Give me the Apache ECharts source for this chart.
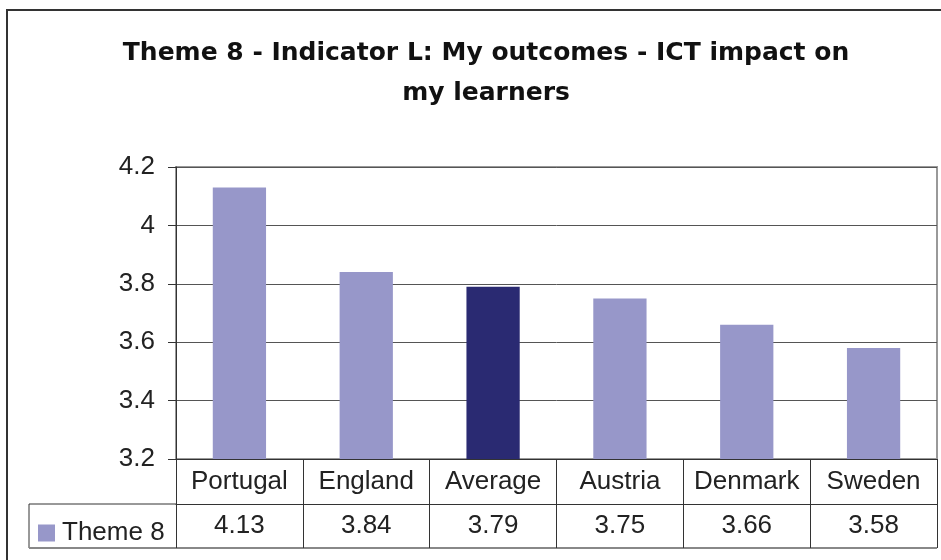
<!DOCTYPE html>
<html>
<head>
<meta charset="utf-8">
<script src="https://cdn.jsdelivr.net/npm/echarts@6/dist/echarts.min.js"></script>
<style>
  html, body { margin: 0; padding: 0; background: #fff; }
  #chart { width: 941px; height: 560px; }
</style>
</head>
<body>
<div id="chart"></div>
<script>
const categories = ['Portugal', 'England', 'Average', 'Austria', 'Denmark', 'Sweden'];
const theme8 = [4.13, 3.84, 3.79, 3.75, 3.66, 3.58];
const highlight = 'Average';
const yTicks = { min: 3.2, max: 4.2, interval: 0.2 };

const lightColor = '#9797C9';
const darkColor = '#2A2A72';
const font = '"Liberation Sans", Arial, sans-serif';

// plot box, in pixels
const G = { left: 176, top: 167, right: 4, bottom: 101 };
const W = 941, H = 560;
const plotBottom = H - G.bottom;      // 459
const plotRight = W - G.right;        // 937
const rowH = 45;

const chart = echarts.init(document.getElementById('chart'));

chart.setOption({
  animation: false,
  backgroundColor: '#fff',
  title: {
    text: 'Theme 8 - Indicator L: My outcomes - ICT impact on\nmy learners',
    left: 481,
    top: 28,
    textAlign: 'center',
    textStyle: {
      fontFamily: '"DejaVu Sans", sans-serif',
      fontWeight: 'bold',
      fontSize: 25,
      lineHeight: 40,
      color: '#111'
    }
  },
  legend: {
    left: 33,
    top: 515,
    itemWidth: 17,
    itemHeight: 17,
    icon: 'rect',
    data: ['Theme 8'],
    textStyle: { fontFamily: font, fontSize: 26, color: '#222', padding: [0, 0, 0, 2] }
  },
  grid: {
    left: G.left, top: G.top, right: G.right, bottom: G.bottom,
    show: true, borderColor: '#999', borderWidth: 2
  },
  xAxis: [
    {
      type: 'category',
      data: categories,
      axisLine: { lineStyle: { color: '#333', width: 1 } },
      axisTick: { show: true, interval: 0, length: rowH, lineStyle: { color: '#333' } },
      axisLabel: { interval: 0, margin: 10, fontFamily: font, fontSize: 26, color: '#222' }
    },
    {
      type: 'category',
      position: 'bottom',
      offset: rowH,
      data: theme8.map(v => v.toFixed(2)),
      axisLine: { lineStyle: { color: '#333', width: 1 } },
      axisTick: { show: true, interval: 0, length: rowH - 1, lineStyle: { color: '#333' } },
      axisLabel: { interval: 0, margin: 9, fontFamily: font, fontSize: 26, color: '#222' }
    }
  ],
  yAxis: {
    type: 'value',
    min: yTicks.min,
    max: yTicks.max,
    interval: yTicks.interval,
    axisLine: { show: true, lineStyle: { color: '#333' } },
    axisTick: { show: true, length: 8, lineStyle: { color: '#333' } },
    axisLabel: { margin: 21, fontFamily: font, fontSize: 26, color: '#222' },
    splitLine: { lineStyle: { color: '#555', width: 1 } }
  },
  series: [
    {
      name: 'Theme 8',
      type: 'bar',
      barWidth: '42%',
      itemStyle: { color: lightColor },
      data: theme8.map((v, i) => categories[i] === highlight
        ? { value: v, itemStyle: { color: darkColor } }
        : v)
    }
  ],
  graphic: [
    // outer chart frame
    { type: 'rect', shape: { x: 7, y: 10, width: 960, height: 580 },
      style: { fill: 'none', stroke: '#333', lineWidth: 2 }, silent: true },
    // legend cell of the data table
    { type: 'line', shape: { x1: 29, y1: plotBottom + rowH, x2: G.left, y2: plotBottom + rowH },
      style: { stroke: '#333', lineWidth: 1 } },
    { type: 'line', shape: { x1: 29, y1: plotBottom + rowH, x2: 29, y2: plotBottom + 2 * rowH - 1 },
      style: { stroke: '#333', lineWidth: 1 } },
    { type: 'line', shape: { x1: 29, y1: plotBottom + 2 * rowH - 1, x2: plotRight, y2: plotBottom + 2 * rowH - 1 },
      style: { stroke: '#888', lineWidth: 2 } }
  ]
});
</script>
</body>
</html>
